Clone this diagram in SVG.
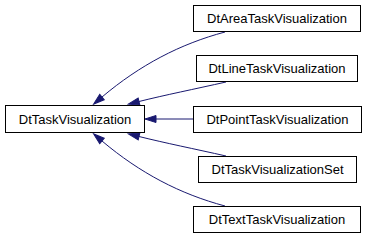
<svg xmlns="http://www.w3.org/2000/svg" width="368" height="240" viewBox="0 0 368 240">
<defs>
<marker id="inh" markerUnits="userSpaceOnUse" viewBox="0 0 11 7" markerWidth="11" markerHeight="7" refX="0" refY="3.5" orient="auto" overflow="visible">
<path d="M0,0 L11,3.5 L0,7 Z" fill="#191970" stroke="#191970" stroke-width="1"/>
</marker>
</defs>
<style>
.box{fill:#fff;stroke:#000;stroke-width:1}
.lbl{font-family:"Liberation Sans",Arial,sans-serif;font-size:13px;fill:#000;text-anchor:middle}
.edge{fill:none;stroke:#191970;stroke-width:1;marker-end:url(#inh)}
</style>
<rect width="368" height="240" fill="#fff"/>
<g id="edges">
<path class="edge" d="M225,32 C180,44 140,65 102,97"/>
<path class="edge" d="M226,82 C195,89 165,95 139,101.5"/>
<path class="edge" d="M193,119 L156,119"/>
<path class="edge" d="M226,156 C195,149 165,143 139,136.5"/>
<path class="edge" d="M225,206 C180,194 140,173 102,141"/>
</g>
<g id="DtTaskVisualization">
<rect class="box" x="5.5" y="105.5" width="139" height="27"/>
<text class="lbl" x="75" y="123.5">DtTaskVisualization</text>
</g>
<g id="DtAreaTaskVisualization">
<rect class="box" x="193.5" y="5.5" width="167" height="26"/>
<text class="lbl" x="277" y="23">DtAreaTaskVisualization</text>
</g>
<g id="DtLineTaskVisualization">
<rect class="box" x="196.5" y="55.5" width="161" height="26"/>
<text class="lbl" x="277" y="73">DtLineTaskVisualization</text>
</g>
<g id="DtPointTaskVisualization">
<rect class="box" x="193.5" y="106.5" width="168" height="26"/>
<text class="lbl" x="277.5" y="124">DtPointTaskVisualization</text>
</g>
<g id="DtTaskVisualizationSet">
<rect class="box" x="198.5" y="156.5" width="158" height="26"/>
<text class="lbl" x="277.5" y="174">DtTaskVisualizationSet</text>
</g>
<g id="DtTextTaskVisualization">
<rect class="box" x="193.5" y="206.5" width="167" height="26"/>
<text class="lbl" x="277" y="224">DtTextTaskVisualization</text>
</g>
</svg>
